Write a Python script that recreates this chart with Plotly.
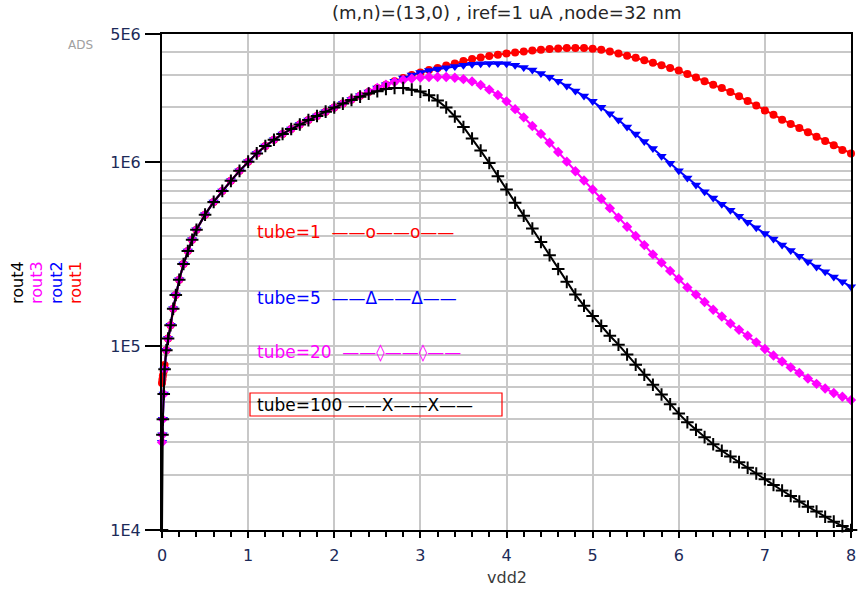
import plotly.graph_objects as go

# Sweep of the drain supply voltage (V)
vdd2 = [0, 0.005, 0.01, 0.02, 0.03, 0.05, 0.07, 0.1, 0.13, 0.16, 0.2, 0.25, 0.3, 0.35, 0.4,
        0.5, 0.6, 0.7, 0.8, 0.9,
        1.0, 1.1, 1.2, 1.3, 1.4, 1.5, 1.6, 1.7, 1.8, 1.9,
        2.0, 2.1, 2.2, 2.3, 2.4, 2.5, 2.6, 2.7, 2.8, 2.9,
        3.0, 3.1, 3.2, 3.3, 3.4, 3.5, 3.6, 3.7, 3.8, 3.9,
        4.0, 4.1, 4.2, 4.3, 4.4, 4.5, 4.6, 4.7, 4.8, 4.9,
        5.0, 5.1, 5.2, 5.3, 5.4, 5.5, 5.6, 5.7, 5.8, 5.9,
        6.0, 6.1, 6.2, 6.3, 6.4, 6.5, 6.6, 6.7, 6.8, 6.9,
        7.0, 7.1, 7.2, 7.3, 7.4, 7.5, 7.6, 7.7, 7.8, 7.9,
        8.0]

# Output resistance (ohm), tube=1
rout1 = [6.3e4, 6.6e4, 6.9e4, 7.3e4, 7.9e4, 9.5e4, 1.1e5, 1.3e5, 1.6e5, 1.9e5, 2.3e5, 2.8e5, 3.3e5, 3.8e5, 4.3e5,
         5.2e5, 6.1e5, 7.0e5, 7.94e5, 9.0e5,
         1.01e6, 1.12e6, 1.23e6, 1.33e6, 1.43e6, 1.52e6, 1.61e6, 1.70e6, 1.79e6, 1.89e6,
         1.99e6, 2.09e6, 2.20e6, 2.31e6, 2.42e6, 2.54e6, 2.65e6, 2.77e6, 2.88e6, 2.99e6,
         3.09e6, 3.18e6, 3.27e6, 3.37e6, 3.45e6, 3.56e6, 3.66e6, 3.73e6, 3.80e6, 3.86e6,
         3.92e6, 3.97e6, 4.02e6, 4.06e6, 4.10e6, 4.14e6, 4.17e6, 4.19e6, 4.20e6, 4.19e6,
         4.16e6, 4.10e6, 4.02e6, 3.92e6, 3.81e6, 3.71e6, 3.60e6, 3.49e6, 3.38e6, 3.27e6,
         3.16e6, 3.03e6, 2.90e6, 2.77e6, 2.65e6, 2.54e6, 2.42e6, 2.29e6, 2.16e6, 2.04e6,
         1.92e6, 1.82e6, 1.71e6, 1.62e6, 1.54e6, 1.46e6, 1.38e6, 1.31e6, 1.24e6, 1.17e6,
         1.12e6]

# tube=5
rout2 = [3.0e4, 3.3e4, 4.0e4, 5.5e4, 7.5e4, 9.5e4, 1.1e5, 1.3e5, 1.6e5, 1.9e5, 2.3e5, 2.8e5, 3.3e5, 3.8e5, 4.3e5,
         5.2e5, 6.1e5, 7.0e5, 7.94e5, 9.0e5,
         1.01e6, 1.12e6, 1.23e6, 1.33e6, 1.43e6, 1.52e6, 1.61e6, 1.70e6, 1.79e6, 1.89e6,
         1.99e6, 2.09e6, 2.20e6, 2.31e6, 2.42e6, 2.54e6, 2.65e6, 2.77e6, 2.88e6, 2.99e6,
         3.09e6, 3.16e6, 3.22e6, 3.28e6, 3.33e6, 3.38e6, 3.42e6, 3.44e6, 3.46e6, 3.46e6,
         3.44e6, 3.38e6, 3.29e6, 3.18e6, 3.05e6, 2.91e6, 2.77e6, 2.61e6, 2.45e6, 2.30e6,
         2.15e6, 2.00e6, 1.84e6, 1.70e6, 1.56e6, 1.43e6, 1.30e6, 1.19e6, 1.08e6, 9.89e5,
         9.02e5, 8.24e5, 7.55e5, 6.93e5, 6.40e5, 5.93e5, 5.50e5, 5.09e5, 4.73e5, 4.41e5,
         4.11e5, 3.83e5, 3.56e5, 3.32e5, 3.09e5, 2.88e5, 2.70e5, 2.54e5, 2.38e5, 2.24e5,
         2.11e5]

# tube=20
rout3 = [3.0e4, 3.3e4, 4.0e4, 5.5e4, 7.5e4, 9.5e4, 1.1e5, 1.3e5, 1.6e5, 1.9e5, 2.3e5, 2.8e5, 3.3e5, 3.8e5, 4.3e5,
         5.2e5, 6.1e5, 7.0e5, 7.94e5, 9.0e5,
         1.01e6, 1.12e6, 1.23e6, 1.33e6, 1.43e6, 1.52e6, 1.61e6, 1.70e6, 1.79e6, 1.89e6,
         1.99e6, 2.09e6, 2.20e6, 2.31e6, 2.42e6, 2.54e6, 2.65e6, 2.74e6, 2.81e6, 2.86e6,
         2.90e6, 2.92e6, 2.92e6, 2.92e6, 2.89e6, 2.84e6, 2.76e6, 2.64e6, 2.49e6, 2.33e6,
         2.15e6, 1.95e6, 1.76e6, 1.58e6, 1.43e6, 1.28e6, 1.14e6, 1.01e6, 8.95e5, 7.98e5,
         7.13e5, 6.34e5, 5.64e5, 5.01e5, 4.47e5, 3.98e5, 3.55e5, 3.16e5, 2.85e5, 2.57e5,
         2.32e5, 2.09e5, 1.91e5, 1.74e5, 1.58e5, 1.45e5, 1.33e5, 1.23e5, 1.14e5, 1.05e5,
         9.66e4, 8.91e4, 8.26e4, 7.67e4, 7.16e4, 6.68e4, 6.24e4, 5.89e4, 5.56e4, 5.31e4,
         5.09e4]

# tube=100
rout4 = [1.0e4, 3.3e4, 4.0e4, 5.5e4, 7.5e4, 9.5e4, 1.1e5, 1.3e5, 1.6e5, 1.9e5, 2.3e5, 2.8e5, 3.3e5, 3.8e5, 4.3e5,
         5.2e5, 6.1e5, 7.0e5, 7.94e5, 9.0e5,
         1.01e6, 1.12e6, 1.23e6, 1.33e6, 1.43e6, 1.52e6, 1.61e6, 1.70e6, 1.79e6, 1.89e6,
         1.99e6, 2.09e6, 2.19e6, 2.28e6, 2.37e6, 2.44e6, 2.51e6, 2.54e6, 2.54e6, 2.49e6,
         2.43e6, 2.32e6, 2.17e6, 1.99e6, 1.78e6, 1.56e6, 1.35e6, 1.16e6, 9.93e5, 8.41e5,
         7.13e5, 6.04e5, 5.13e5, 4.37e5, 3.69e5, 3.13e5, 2.63e5, 2.24e5, 1.91e5, 1.66e5,
         1.46e5, 1.29e5, 1.14e5, 1.02e5, 9.02e4, 7.94e4, 7.00e4, 6.17e4, 5.46e4, 4.83e4,
         4.30e4, 3.86e4, 3.51e4, 3.20e4, 2.93e4, 2.70e4, 2.51e4, 2.34e4, 2.18e4, 2.03e4,
         1.89e4, 1.76e4, 1.64e4, 1.53e4, 1.43e4, 1.34e4, 1.26e4, 1.18e4, 1.11e4, 1.05e4,
         1.0e4]

y_tickvals = [1e4, 1e5, 1e6, 5e6]
y_ticktext = ["1E4", "1E5", "1E6", "5E6"]
y_minor = [m * 10 ** e for e in (4, 5) for m in range(2, 10)] + [2e6, 3e6, 4e6]
x_tickvals = [0, 1, 2, 3, 4, 5, 6, 7, 8]

series = [
    ("rout1", rout1, "#ff0000", dict(symbol="circle", size=8)),
    ("rout2", rout2, "#0000ff", dict(symbol="triangle-down", size=9)),
    ("rout3", rout3, "#ff00ff", dict(symbol="diamond", size=8)),
    ("rout4", rout4, "#000000", dict(symbol="cross-thin", size=9,
                                     line=dict(width=2, color="#000000"))),
]

FONT = "DejaVu Sans, Arial, sans-serif"
TICK_COLOR = "#1c2a58"
SEG = "\u2014\u2014"   # line piece between legend symbols

fig = go.Figure()
for name, vals, color, marker in series:
    marker = dict(marker, color=color)
    fig.add_trace(go.Scatter(
        x=vdd2, y=vals, name=name, mode="lines+markers",
        line=dict(color=color, width=2), marker=marker,
        cliponaxis=False, showlegend=False,
    ))

fig.update_layout(
    width=858, height=590,
    margin=dict(l=162, r=7, t=34, b=60, autoexpand=False),
    paper_bgcolor="white", plot_bgcolor="white",
    font=dict(family=FONT, size=15, color=TICK_COLOR),
)

fig.update_xaxes(
    range=[0, 8], tickvals=x_tickvals, automargin=False,
    showgrid=True, gridcolor="#c8c8c8", gridwidth=1.5,
    showline=True, linecolor="black", linewidth=2, mirror=True,
    ticks="outside", ticklen=6, tickwidth=1.5, tickcolor="black",
    ticklabelstandoff=4,
    tickfont=dict(family=FONT, size=16, color=TICK_COLOR),
    minor=dict(dtick=0.2, ticks="outside", ticklen=5, tickwidth=1.5,
               tickcolor="black", showgrid=False),
    zeroline=False,
)

fig.update_yaxes(
    type="log", range=[4, 6.69897], automargin=False,
    tickvals=y_tickvals, ticktext=y_ticktext,
    showgrid=True, gridcolor="#c8c8c8", gridwidth=1.5,
    showline=True, linecolor="black", linewidth=2, mirror=True,
    ticks="outside", ticklen=15, tickwidth=1.5, tickcolor="black",
    ticklabelstandoff=1,
    tickfont=dict(family=FONT, size=16, color=TICK_COLOR),
    minor=dict(tickvals=y_minor, showgrid=True, gridcolor="#c8c8c8",
               gridwidth=1.5, ticks=""),
    zeroline=False,
)

annotations = [
    # title
    dict(text="(m,n)=(13,0) , iref=1 uA ,node=32 nm", xref="paper", yref="paper",
         x=0.5, y=1, yshift=22, xanchor="center", yanchor="middle", showarrow=False,
         font=dict(family=FONT, size=18, color="#262626")),
    # x-axis title
    dict(text="vdd2", xref="paper", yref="paper", x=0.5, y=0, yshift=-47,
         xanchor="center", yanchor="middle", showarrow=False,
         font=dict(family=FONT, size=16, color="#3a3a3a")),
    dict(text="ADS", xref="paper", yref="paper", x=0, y=1, xshift=-82, yshift=-11,
         xanchor="center", yanchor="middle", showarrow=False,
         font=dict(family=FONT, size=12, color="#a0a0a0")),
]

# stacked y-axis labels, one per series
for (name, _, color, _m), px in zip(series, [75, 56, 36, 17]):
    annotations.append(dict(
        text=name, xref="paper", yref="paper", x=0, y=0, xshift=px - 162, yshift=530 - 283,
        textangle=-90, xanchor="center", yanchor="middle", showarrow=False,
        font=dict(family=FONT, size=16, color=color)))

legend_rows = [
    ("tube=1  " + SEG + "o" + SEG + "o" + SEG, "#ff0000", 232),
    ("tube=5  " + SEG + "\u0394" + SEG + "\u0394" + SEG, "#0000ff", 298),
    ("tube=20  " + SEG + "\u25ca" + SEG + "\u25ca" + SEG, "#ff00ff", 352),
    ("tube=100 " + SEG + "X" + SEG + "X" + SEG, "#000000", 405),
]
for text, color, py in legend_rows:
    annotations.append(dict(
        text=text, xref="paper", yref="paper", x=0, y=0, xshift=255 - 162, yshift=530 - py,
        xanchor="left", yanchor="middle", showarrow=False,
        font=dict(family=FONT, size=17, color=color)))

fig.update_layout(annotations=annotations)

# red frame around the tube=100 entry
fig.add_shape(type="rect", xref="paper", yref="paper",
              x0=(250 - 162) / 689, x1=(502 - 162) / 689,
              y0=(530 - 416) / 496, y1=(530 - 393) / 496,
              line=dict(color="#ff0000", width=1.2))

fig.write_html("out.html")
